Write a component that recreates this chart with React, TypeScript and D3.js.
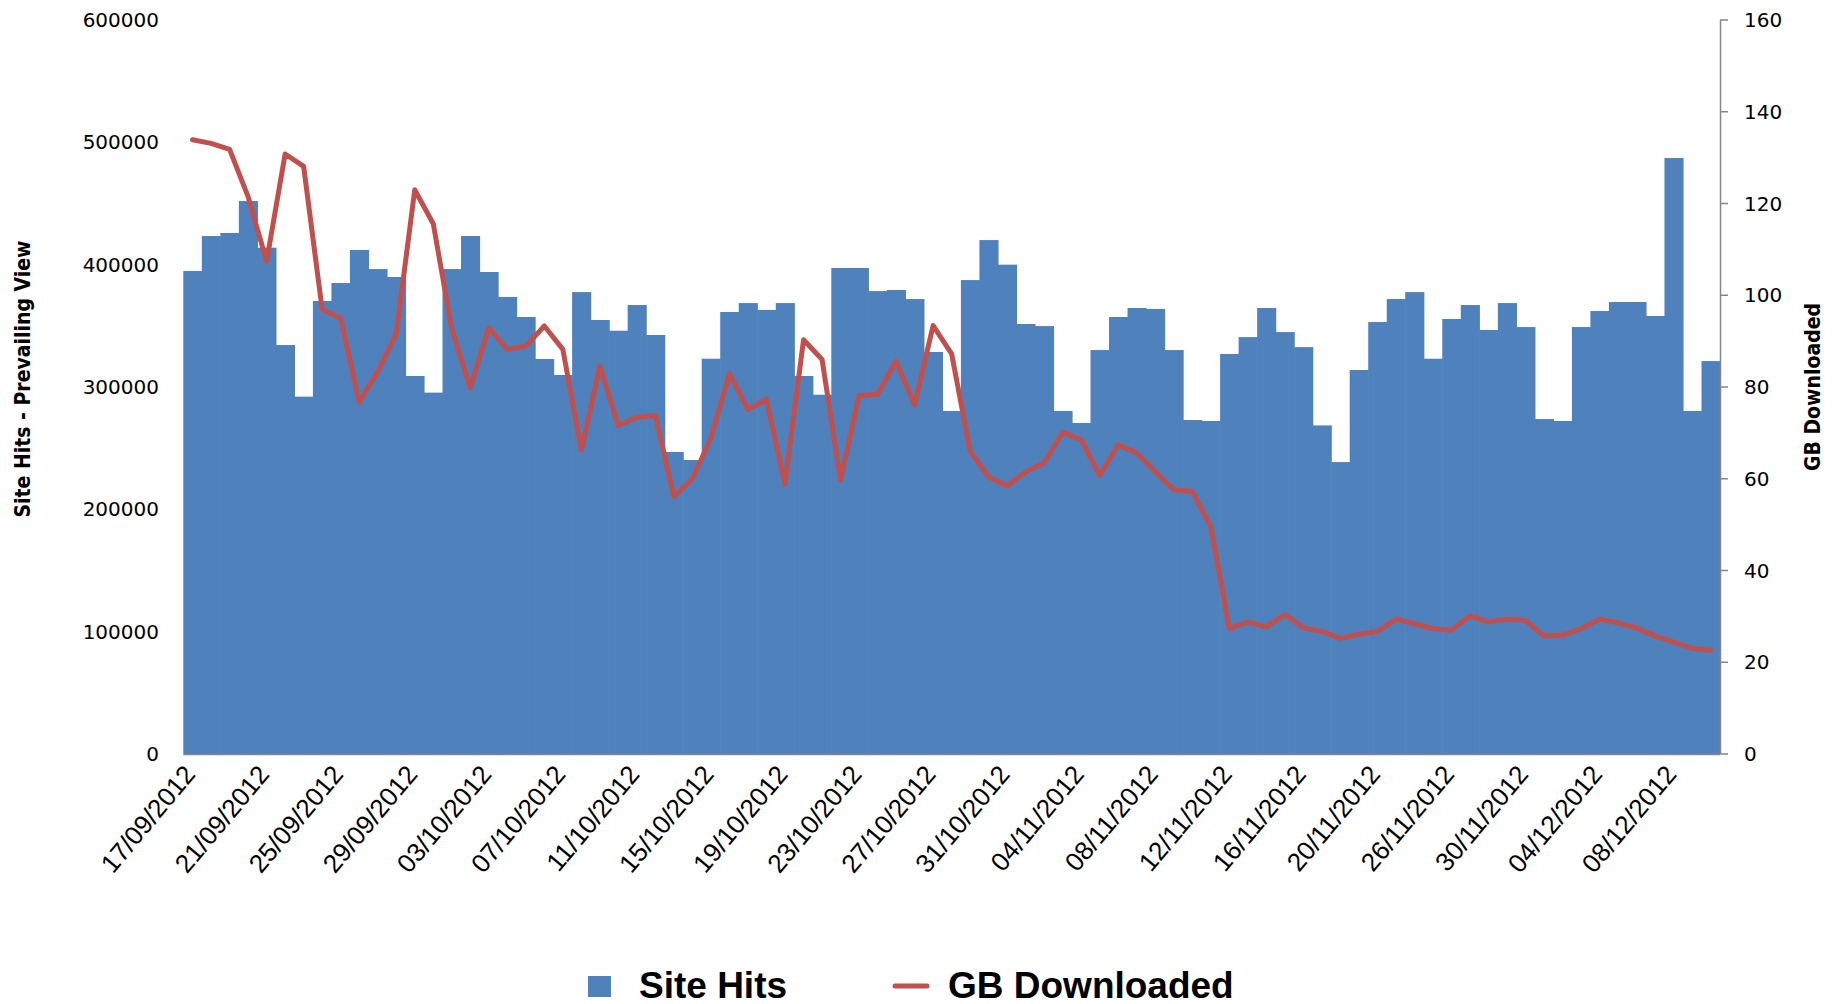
import React from 'react';
import * as d3 from 'd3';

const dates = [
  '17/09/2012', '18/09/2012', '19/09/2012', '20/09/2012', '21/09/2012', '22/09/2012', '23/09/2012', '24/09/2012',
  '25/09/2012', '26/09/2012', '27/09/2012', '28/09/2012', '29/09/2012', '30/09/2012', '01/10/2012', '02/10/2012',
  '03/10/2012', '04/10/2012', '05/10/2012', '06/10/2012', '07/10/2012', '08/10/2012', '09/10/2012', '10/10/2012',
  '11/10/2012', '12/10/2012', '13/10/2012', '14/10/2012', '15/10/2012', '16/10/2012', '17/10/2012', '18/10/2012',
  '19/10/2012', '20/10/2012', '21/10/2012', '22/10/2012', '23/10/2012', '24/10/2012', '25/10/2012', '26/10/2012',
  '27/10/2012', '28/10/2012', '29/10/2012', '30/10/2012', '31/10/2012', '01/11/2012', '02/11/2012', '03/11/2012',
  '04/11/2012', '05/11/2012', '06/11/2012', '07/11/2012', '08/11/2012', '09/11/2012', '10/11/2012', '11/11/2012',
  '12/11/2012', '13/11/2012', '14/11/2012', '15/11/2012', '16/11/2012', '17/11/2012', '18/11/2012', '19/11/2012',
  '20/11/2012', '21/11/2012', '22/11/2012', '23/11/2012', '26/11/2012', '27/11/2012', '28/11/2012', '29/11/2012',
  '30/11/2012', '01/12/2012', '02/12/2012', '03/12/2012', '04/12/2012', '05/12/2012', '06/12/2012', '07/12/2012',
  '08/12/2012', '09/12/2012', '10/12/2012',
];

const siteHits = [
  394800, 423400, 425900, 452000, 413900, 334300, 292100, 370300,
  385000, 412000, 396400, 389900, 309000, 295400, 396400, 423400,
  394000, 373600, 357200, 322900, 309800, 377600, 354800, 346000,
  367000, 342500, 246900, 240300, 323100, 361300, 368600, 363000,
  368600, 309000, 293700, 397300, 397300, 378400, 379300, 371900,
  328600, 280400, 387400, 420100, 400000, 351500, 349800, 280400,
  270600, 330200, 357200, 364600, 363800, 330200, 273000, 272200,
  327000, 340800, 364600, 344900, 332600, 268600, 238600, 313900,
  353100, 371900, 377600, 323100, 355600, 367000, 346600, 368600,
  349000, 273800, 272200, 349000, 362100, 369500, 369500, 358100,
  487200, 280400, 321200,
];

const gbDownloaded = [
  133.9, 133.1, 131.8, 121.5, 107.4, 130.8, 128.1, 96.9,
  95.0, 76.7, 83.3, 91.5, 123.0, 115.6, 92.7, 79.8,
  92.9, 88.2, 88.9, 93.3, 88.2, 66.2, 84.5, 71.6,
  73.4, 73.8, 56.1, 60.0, 68.9, 82.9, 75.1, 77.3,
  58.8, 90.3, 86.0, 59.7, 78.1, 78.4, 85.6, 76.1,
  93.4, 87.2, 66.0, 60.4, 58.4, 61.5, 63.5, 70.1,
  68.5, 60.7, 67.4, 65.6, 61.5, 57.6, 57.2, 49.6,
  27.3, 28.8, 27.7, 30.4, 27.5, 26.7, 25.2, 26.1,
  26.7, 29.4, 28.4, 27.3, 27.0, 30.1, 28.8, 29.4,
  29.1, 25.7, 25.9, 27.3, 29.4, 28.6, 27.5, 25.7,
  24.4, 23.0, 22.6,
];

const leftTicks = [0, 100000, 200000, 300000, 400000, 500000, 600000];
const rightTicks = [0, 20, 40, 60, 80, 100, 120, 140, 160];

const W = 1839;
const H = 1004;
const plot = { left: 183.3, right: 1720, top: 20, bottom: 754 };

const barColor = '#4F81BD';
const lineColor = '#C0504D';
const axisColor = '#868686';

export default function App() {
  const x = d3.scaleBand<string>().domain(dates).range([plot.left, plot.right]).padding(0);
  const yL = d3.scaleLinear().domain([0, 600000]).range([plot.bottom, plot.top]);
  const yR = d3.scaleLinear().domain([0, 160]).range([plot.bottom, plot.top]);
  const bw = x.bandwidth();

  const line = d3.line<number>()
    .x((_, i) => (x(dates[i]) as number) + bw / 2)
    .y(d => yR(d));

  const labelDates = dates.filter((_, i) => i % 4 === 0);
  const tickFont = 'DejaVu Sans, Verdana, sans-serif';
  const titleFont = "'Liberation Sans Narrow', 'DejaVu Sans Condensed', sans-serif";

  return (
    <svg width={W} height={H} style={{ position: 'absolute', left: 0, top: 0, display: 'block', background: '#fff' }}>
      {/* bars */}
      <g>
        {siteHits.map((v, i) => (
          <rect key={i} x={x(dates[i]) as number} y={yL(v)} width={bw + 0.6} height={plot.bottom - yL(v)} fill={barColor} />
        ))}
      </g>

      {/* bottom axis line */}
      <line x1={plot.left} x2={plot.right} y1={plot.bottom + 0.5} y2={plot.bottom + 0.5} stroke={axisColor} strokeWidth={1.5} />

      {/* GB line */}
      <path d={line(gbDownloaded) || ''} fill="none" stroke={lineColor} strokeWidth={5} strokeLinejoin="round" strokeLinecap="round" />

      {/* left axis labels */}
      <g fontFamily={tickFont} fontSize={20} fill="#000">
        {leftTicks.map(t => (
          <text key={t} x={159} y={yL(t)} textAnchor="end" dominantBaseline="central">{t}</text>
        ))}
      </g>

      {/* right axis */}
      <g>
        <line x1={plot.right + 0.5} x2={plot.right + 0.5} y1={plot.top} y2={plot.bottom} stroke={axisColor} strokeWidth={1.5} />
        {rightTicks.map(t => (
          <line key={t} x1={plot.right} x2={plot.right + 8} y1={yR(t)} y2={yR(t)} stroke={axisColor} strokeWidth={1.5} />
        ))}
        <g fontFamily={tickFont} fontSize={20} fill="#000">
          {rightTicks.map(t => (
            <text key={t} x={1744} y={yR(t)} dominantBaseline="central">{t}</text>
          ))}
        </g>
      </g>

      {/* x labels */}
      <g fontFamily="'Liberation Sans', Arial, sans-serif" fontSize={26} fill="#000">
        {labelDates.map(d => {
          const cx = (x(d) as number) + bw / 2;
          return (
            <text key={d} transform={`translate(${cx - 3},${plot.bottom + 15}) rotate(-50)`} textAnchor="end" dy="0.35em">{d}</text>
          );
        })}
      </g>

      {/* axis titles */}
      <text transform={`translate(30,${(plot.top + plot.bottom) / 2 - 8}) rotate(-90)`} textAnchor="middle"
        fontFamily={titleFont} fontWeight="bold" fontSize={21}>
        Site Hits - Prevailing View
      </text>
      <text transform={`translate(1820,${(plot.top + plot.bottom) / 2}) rotate(-90)`} textAnchor="middle"
        fontFamily={titleFont} fontWeight="bold" fontSize={21}>
        GB Downloaded
      </text>

      {/* legend */}
      <g fontFamily="'Liberation Sans', Arial, sans-serif" fontWeight="bold" fontSize={37} fill="#000">
        <rect x={588} y={976} width={23} height={21} fill={barColor} />
        <text x={639} y={985} dominantBaseline="central">Site Hits</text>
        <line x1={895} x2={927} y1={986} y2={986} stroke={lineColor} strokeWidth={5} strokeLinecap="round" />
        <text x={948} y={985} dominantBaseline="central">GB Downloaded</text>
      </g>
    </svg>
  );
}
